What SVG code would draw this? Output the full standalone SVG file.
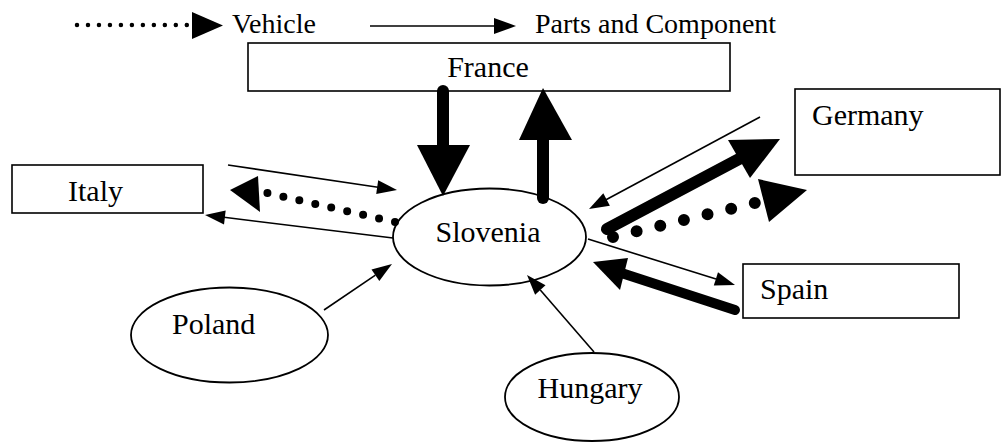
<svg xmlns="http://www.w3.org/2000/svg" width="1005" height="445" viewBox="0 0 1005 445">
<style>
.box{fill:#fff;stroke:#000;stroke-width:1.6}
.oval{fill:#fff;stroke:#000;stroke-width:1.8}
.lbl{font-family:"Liberation Serif","Times New Roman",serif;font-size:30px;fill:#000}
.leg{font-family:"Liberation Serif","Times New Roman",serif;font-size:28px;fill:#000}
.thin{stroke:#000;stroke-width:1.6;fill:none}
.thick{stroke:#000;stroke-linecap:round;fill:none}
.dots{stroke:#000;stroke-linecap:round;fill:none}
.head{fill:#000;stroke:none}
</style>
<rect width="1005" height="445" fill="#fff"/>

<g id="legend">
<line class="dots" x1="77" y1="25" x2="187" y2="25" stroke-width="4.5" stroke-dasharray="0 10.98"/>
<polygon class="head" points="192,12 223,25.5 192,39"/>
<text class="leg" x="232" y="33">Vehicle</text>
<line class="thin" x1="370" y1="26" x2="496" y2="26"/>
<polygon class="head" points="494,18 516,26 494,34"/>
<text class="leg" x="535" y="33">Parts and Component</text>
</g>

<g id="node-france">
<rect class="box" x="248" y="43" width="482" height="48"/>
<text class="lbl" x="488" y="77" text-anchor="middle" font-size="31">France</text>
</g>

<g id="node-italy">
<rect class="box" x="12" y="165" width="191" height="48"/>
<text class="lbl" x="68" y="201">Italy</text>
</g>

<g id="node-germany">
<rect class="box" x="795" y="89" width="205" height="86"/>
<text class="lbl" x="812" y="125">Germany</text>
</g>

<g id="node-spain">
<rect class="box" x="743" y="264" width="216" height="54"/>
<text class="lbl" x="760" y="299">Spain</text>
</g>

<g id="node-slovenia">
<ellipse class="oval" cx="489.5" cy="237" rx="96.5" ry="48.5"/>
<text class="lbl" x="488" y="242" text-anchor="middle">Slovenia</text>
</g>

<g id="node-poland">
<ellipse class="oval" cx="229.5" cy="335" rx="98.5" ry="47.5"/>
<text class="lbl" x="172" y="334">Poland</text>
</g>

<g id="node-hungary">
<ellipse class="oval" cx="592" cy="397" rx="87" ry="44"/>
<text class="lbl" x="590" y="398" text-anchor="middle" font-size="29">Hungary</text>
</g>

<g id="connectors">
<!-- France <-> Slovenia (thick) -->
<line class="thick" x1="443" y1="91" x2="443" y2="146" stroke-width="12"/>
<polygon class="head" points="417,145 470,145 443,196"/>
<line class="thick" x1="543" y1="198" x2="543" y2="139" stroke-width="12"/>
<polygon class="head" points="519,140 572,140 543,88"/>

<!-- Italy -->
<line class="thin" x1="228" y1="165" x2="378" y2="187.2"/>
<polygon class="head" points="378.2,180.2 397,190 376.2,194"/>
<line class="thin" x1="393" y1="238" x2="224" y2="217.3"/>
<polygon class="head" points="225.7,210.5 205,215 224,224.4"/>
<line class="dots" x1="395" y1="222" x2="267" y2="193" stroke-width="8" stroke-dasharray="0 16.35"/>
<polygon class="head" points="230,190 258,176 260,212"/>

<!-- Germany -->
<line class="thin" x1="760" y1="117" x2="606" y2="199.8"/>
<polygon class="head" points="609.9,205.7 589,209 603.3,193.3"/>
<line class="thick" x1="607" y1="229" x2="740" y2="158.5" stroke-width="12"/>
<polygon class="head" points="728,140 780,139 750,178"/>
<line class="dots" x1="613" y1="237" x2="755" y2="203" stroke-width="12" stroke-dasharray="0 24.3"/>
<polygon class="head" points="758,179 807,190 769,222"/>

<!-- Spain -->
<line class="thin" x1="588" y1="239" x2="716" y2="279"/>
<polygon class="head" points="713.8,285.6 735,285 718,272.2"/>
<line class="thick" x1="735" y1="310" x2="623" y2="273.5" stroke-width="10"/>
<polygon class="head" points="628,258 593,262 620,290"/>

<!-- Poland, Hungary -->
<line class="thin" x1="324" y1="310" x2="375.4" y2="275.2"/>
<polygon class="head" points="379.3,281 392,264 371.5,269.4"/>
<line class="thin" x1="594" y1="352" x2="540.3" y2="290"/>
<polygon class="head" points="545.5,285.3 527,275 535.1,294.7"/>
</g>
</svg>
